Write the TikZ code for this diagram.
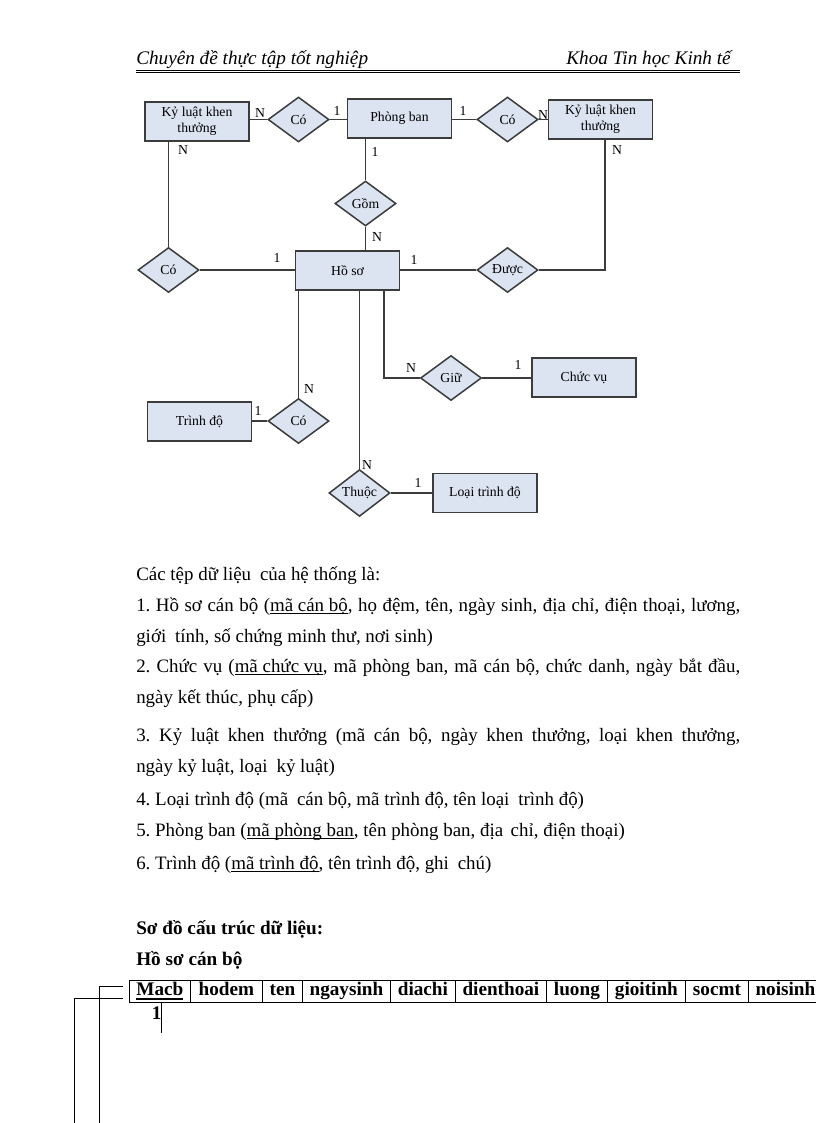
\documentclass[tikz,border=0pt]{standalone}
\usepackage{fontspec}
\setmainfont{Liberation Serif}
\usetikzlibrary{shapes.geometric}
\definecolor{boxfill}{RGB}{219,228,240}
\definecolor{erline}{RGB}{60,60,60}
\newcommand\erfont{\fontsize{10}{11.7}\selectfont}
\newcommand\myul[1]{\setbox0\hbox{#1}\rlap{\rule[-2pt]{\wd0}{0.55pt}}\box0}
\newcommand\myulb[1]{\setbox0\hbox{#1}\rlap{\rule[-3.6pt]{\wd0}{1.5pt}}\box0}
\frenchspacing
\begin{document}
\begin{tikzpicture}[x=0.729pt,y=-0.729pt,
  ent/.style={draw=erline, fill=boxfill, line width=1.1pt, minimum width=75.8pt, minimum height=28.4pt, inner sep=0pt, align=center, font=\erfont},
  rel/.style={diamond, draw=erline, fill=boxfill, line width=1.1pt, minimum width=44.5pt, minimum height=32.8pt, inner sep=0pt, font=\erfont},
  card/.style={inner sep=0pt, anchor=center, font=\erfont},
  conn/.style={draw=erline, line width=1.1pt},
  body/.style={anchor=base west, inner sep=0pt, font=\fontsize{13.8}{16}\selectfont},
  head/.style={anchor=base west, inner sep=0pt, font=\bfseries\fontsize{14}{16}\selectfont},
  hdr/.style={inner sep=0pt, font=\itshape\fontsize{14}{16}\selectfont},
  cell/.style={draw=black, line width=0.6pt, minimum height=16pt, inner sep=0pt, text height=9.6pt, text depth=3pt, font=\bfseries\fontsize{14}{16}\selectfont, anchor=west},
  brk/.style={draw=black, line width=0.6pt}]
\useasboundingbox (0,0) rectangle (816,1123);
\clip (0,0) rectangle (816,1123);

% header
\node[hdr, anchor=base west] (h1) at (136,65) {Chuyên đề thực tập tốt nghiệp};
\node[hdr, anchor=base east] (h2) at (731,65) {Khoa Tin học Kinh tế};
\coordinate (r1a) at (136,70); \coordinate (r1b) at (740,70);
\coordinate (r2a) at (136,72.5); \coordinate (r2b) at (740,72.5);
\draw[line width=0.5pt] (r1a) -- (r1b);
\draw[line width=1.1pt] (r2a) -- (r2b);

% entities
\node[ent] (klL) at (197,121.5) {Kỷ luật khen\\thưởng};
\node[ent] (pb) at (399.5,118.5) {Phòng ban};
\node[ent] (klR) at (600.5,119.5) {Kỷ luật khen\\thưởng};
\node[ent] (hs) at (347.5,270.5) {Hồ sơ};
\node[ent] (td) at (199.5,421.5) {Trình độ};
\node[ent] (cv) at (584,377.5) {Chức vụ};
\node[ent] (ltd) at (485,493) {Loại trình độ};

% relationships
\node[rel] (co1) at (298.5,119.5) {Có};
\node[rel] (co2) at (507.5,119.5) {Có};
\node[rel] (gom) at (365.5,203.5) {Gồm};
\node[rel] (co3) at (168.5,270) {Có};
\node[rel] (duoc) at (507.5,270) {Được};
\node[rel] (co4) at (298.5,421) {Có};
\node[rel] (giu) at (451,378) {Giữ};
\node[rel] (thuoc) at (359.5,493) {Thuộc};

% connectors
\draw[conn] (co1.west) -- (co1.west -| klL.east);
\draw[conn] (co1.east) -- (co1.east -| pb.west);
\draw[conn] (co2.west) -- (co2.west -| pb.east);
\draw[conn] (co2.east) -- (co2.east -| klR.west);
\draw[conn] (co3.north) -- (co3.north |- klL.south);
\draw[conn] (gom.north) -- (gom.north |- pb.south);
\draw[conn] (gom.south) -- (gom.south |- hs.north);
\draw[conn] (co3.east) -- (co3.east -| hs.west);
\draw[conn] (duoc.west) -- (duoc.west -| hs.east);
\draw[conn] (duoc.east) -| ([xshift=3.3pt]klR.south);
\draw[conn] (co4.north) -- (co4.north |- hs.south);
\draw[conn] ([xshift=26.6pt]hs.south) |- (giu.west);
\draw[conn] (thuoc.north) -- (thuoc.north |- hs.south);
\draw[conn] (giu.east) -- (giu.east -| cv.west);
\draw[conn] (co4.west) -- (co4.west -| td.east);
\draw[conn] (thuoc.east) -- (thuoc.east -| ltd.west);

% cardinalities
\node[card] (k1) at (260,113) {N};
\node[card] (k2) at (337,111) {1};
\node[card] (k3) at (463,111) {1};
\node[card] (k4) at (543,115) {N};
\node[card] (k5) at (183,150) {N};
\node[card] (k6) at (375,152) {1};
\node[card] (k7) at (377,237) {N};
\node[card] (k8) at (277,258) {1};
\node[card] (k9) at (414,260) {1};
\node[card] (k10) at (617,150) {N};
\node[card] (k11) at (309,389) {N};
\node[card] (k12) at (258,411) {1};
\node[card] (k13) at (411,368) {N};
\node[card] (k14) at (518,365) {1};
\node[card] (k15) at (367,465) {N};
\node[card] (k16) at (418,483) {1};

% body text
\node[body] (t0) at (136,580) {Các tệp dữ liệu\hspace{3pt} của hệ thống là:};
\node[body] (t1) at (136,611) {\makebox[440.3pt][s]{1. Hồ sơ cán bộ (\myul{mã cán bộ}, họ đệm, tên, ngày sinh, địa chỉ, điện thoại, lương,}};
\node[body] (t2) at (136,642) {giới\hspace{3pt} tính, số chứng minh thư, nơi sinh)};
\node[body] (t3) at (136,672) {\makebox[440.3pt][s]{2. Chức vụ (\myul{mã chức vụ}, mã phòng ban, mã cán bộ, chức danh, ngày bắt đầu,}};
\node[body] (t4) at (136,703) {ngày kết thúc, phụ cấp)};
\node[body] (t5) at (136,741) {\makebox[440.3pt][s]{3. Kỷ luật khen thưởng (mã cán bộ, ngày khen thưởng, loại khen thưởng,}};
\node[body] (t6) at (136,772) {ngày kỷ luật, loại\hspace{3pt} kỷ luật)};
\node[body] (t7) at (136,805) {4. Loại trình độ (mã\hspace{3pt} cán bộ, mã trình độ, tên loại\hspace{3pt} trình độ)};
\node[body] (t8) at (136,836) {5. Phòng ban (\myul{mã phòng ban}, tên phòng ban, địa\hspace{2pt} chỉ, điện thoại)};
\node[body] (t9) at (136,869) {6. Trình độ (\myul{mã trình độ}, tên trình độ, ghi\hspace{3pt} chú)};
\node[head] (s1) at (136,934) {Sơ đồ cấu trúc dữ liệu:};
\node[head] (s2) at (136,965) {Hồ sơ cán bộ};

% table
\node[cell, minimum width=44.47pt] (c1) at (129,991) {\myulb{Macb}};
\node[cell, minimum width=52.49pt] (c2) at (190,991) {hodem};
\node[cell, minimum width=29.16pt] (c3) at (262,991) {ten};
\node[cell, minimum width=64.15pt] (c4) at (302,991) {ngaysinh};
\node[cell, minimum width=47.39pt] (c5) at (390,991) {diachi};
\node[cell, minimum width=66.34pt] (c6) at (455,991) {dienthoai};
\node[cell, minimum width=44.47pt] (c7) at (546,991) {luong};
\node[cell, minimum width=56.86pt] (c8) at (607,991) {gioitinh};
\node[cell, minimum width=45.93pt] (c9) at (685,991) {socmt};
\node[cell, minimum width=58.32pt, align=left, text width=56pt] (c10) at (748,991) {\hspace{4pt}noisinh};

% brackets and link
\coordinate (bt1) at (123,986); \coordinate (bb1) at (99,1125);
\coordinate (bt2) at (123,998); \coordinate (bb2) at (74,1125);
\draw[brk] (bb1) |- (bt1);
\draw[brk] (bb2) |- (bt2);
\coordinate (v1) at (161,1033);
\draw[brk] (c1.south -| v1) -- (v1);
\node[anchor=base west, inner sep=0pt, font=\bfseries\fontsize{14}{16}\selectfont] (one) at (151.5,1019) {1};
\end{tikzpicture}
\end{document}
